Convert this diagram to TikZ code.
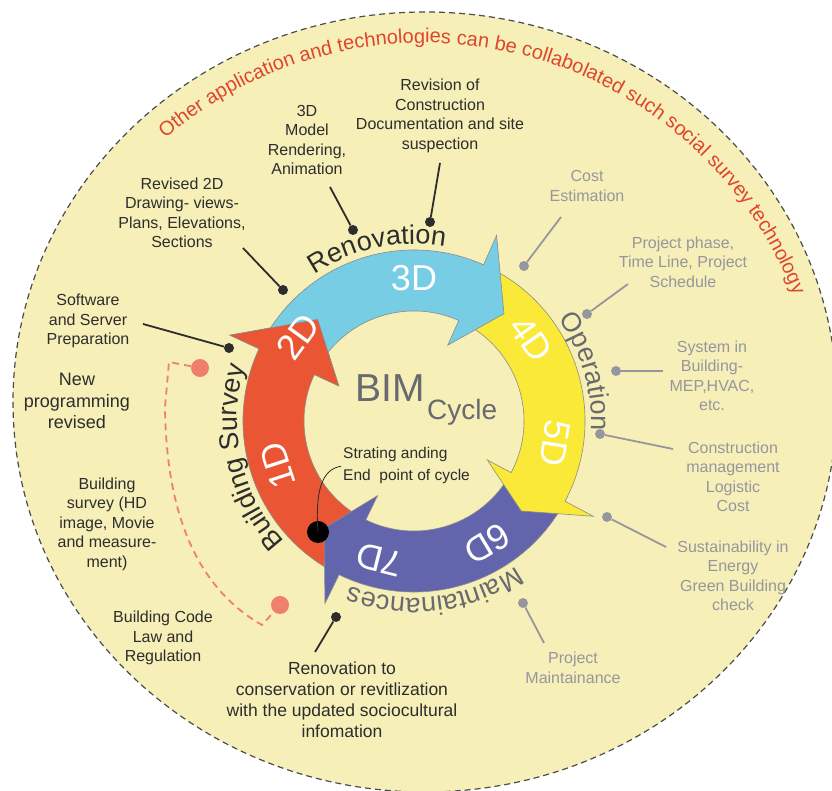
\documentclass[tikz,border=0pt]{standalone}
\usepackage{fontspec}
\setmainfont{Liberation Sans}
\usetikzlibrary{positioning,decorations.text}

\definecolor{paper}{RGB}{246,239,184}
\definecolor{bimred}{RGB}{234,86,52}
\definecolor{bimblue}{RGB}{118,205,228}
\definecolor{bimyellow}{RGB}{250,233,55}
\definecolor{bimpurple}{RGB}{98,101,172}
\definecolor{bimgrey}{RGB}{105,105,112}
\definecolor{note}{RGB}{150,150,158}
\definecolor{ink}{RGB}{45,45,45}
\definecolor{salmon}{RGB}{240,128,110}
\definecolor{headline}{RGB}{222,70,45}

% one curved arrow of the cycle: colour, tail angle, barb angle, tip angle
\newcommand{\bimband}[4]{%
  \filldraw[ring, fill=#1]
    (#2:171) arc[start angle=#2, end angle=#3, radius=171]
    -- (#3:203) -- (#4:140) -- (#3:83) -- (#3:110)
    arc[start angle=#3, end angle=#2, radius=110] -- cycle;}

\begin{document}
\begin{tikzpicture}[x=1pt, y=1pt,
    lbl/.style={align=center, inner sep=0pt, text=ink, font=\fontsize{16}{19.5}\selectfont},
    glbl/.style={lbl, text=note},
    dot/.style={circle, fill=ink, inner sep=0pt, minimum size=10pt},
    gdot/.style={dot, fill=note},
    lead/.style={draw=ink, line width=1.8pt},
    glead/.style={draw=note, line width=1.8pt},
    digit/.style={text=white, inner sep=0pt, font=\fontsize{36}{36}\selectfont},
    ring/.style={draw=black!45, line width=0.6pt}]

  \clip (0,0) rectangle (832,791);
  \fill[white] (0,0) rectangle (832,791);
  \filldraw[fill=paper, draw=black!70, dash pattern=on 6pt off 4pt, line width=1.2pt]
    (425,389) ellipse[x radius=412, y radius=390];

  % red headline round the top
  \path[decorate, decoration={text along path, text align=center,
      text={|\fontsize{20}{20}\selectfont\color{headline}|Other application and technologies can be collabolated such social survey technology}}]
    (424,351) ++(140:397) arc[start angle=140, end angle=12, radius=397];

  \begin{scope}[shift={(414,370)}]
    % phase names round the ring
    \path[decorate, decoration={text along path, text align=center,
        text={|\fontsize{27}{27}\selectfont\color{ink}|Renovation}}]
      (130:177) arc[start angle=130, end angle=74, radius=177];
    \path[decorate, decoration={text along path, text align=center,
        text={|\fontsize{27}{27}\selectfont\color{bimgrey}|Operation}}]
      (40:177) arc[start angle=40, end angle=-8, radius=177];
    \path[decorate, decoration={text along path, text align=center,
        text={|\fontsize{27}{27}\selectfont\color{bimgrey}|Maintainances}}]
      (-40:177) arc[start angle=-40, end angle=-126, radius=177];
    \path[decorate, decoration={text along path, text align=center,
        text={|\fontsize{27}{27}\selectfont\color{ink}|Building Survey}}]
      (235:177) arc[start angle=235, end angle=150, radius=177];

    \bimband{bimred}{240}{155}{133.5}
    \bimband{bimpurple}{-31}{-116}{-130}
    \bimband{bimyellow}{62}{-28}{-40}
    \bimband{bimblue}{151}{66}{50}
    % red head again, over the tail of the blue one
    \fill[bimred] (155:203) -- (133.5:140) -- (155:83) -- cycle;
    \draw[ring] (155:171) -- (155:203) -- (133.5:140) -- (155:83) -- (155:110);

    \foreach \lab/\ang in {1D/198, 2D/144, 3D/90, 4D/35, 5D/-9, 6D/-59, 7D/-104}
      \node[digit, rotate=\ang-90] (d\lab) at (\ang:143) {\lab};
  \end{scope}

  \node[inner sep=0pt, text=bimgrey, font=\fontsize{39}{39}\selectfont, anchor=base] (bim) at (390,389) {BIM};
  \node[inner sep=0pt, text=bimgrey, font=\fontsize{28}{28}\selectfont, anchor=base west] (cyc)
    at ([xshift=2pt, yshift=-18pt]bim.base east) {Cycle};

  \node[lbl, align=left, anchor=west, font=\fontsize{15.5}{22}\selectfont] (start) at (343,325) {Strating anding\\End\ \ point of cycle};
  \node[dot, fill=black, minimum size=22pt] (sdot) at (318,259) {};
  \draw[ink, line width=0.8pt, shorten >=2pt] (sdot.center) .. controls (315,300) and (322,322) .. (start.west);

  % black notes
  \node[lbl] (revision) at (440,675) {Revision of\\Construction\\Documentation and site\\suspection};
  \node[lbl] (render) at (307,651) {3D\\Model\\Rendering,\\Animation};
  \node[lbl] (drawings) at (182,578) {Revised 2D\\Drawing- views-\\Plans, Elevations,\\Sections};
  \node[lbl] (software) at (88,470) {Software\\and Server\\Preparation};
  \node[lbl, font=\fontsize{18}{21.5}\selectfont] (newprog) at (77,390) {New\\programming\\revised};
  \node[lbl] (survey) at (107,267) {Building\\survey (HD\\image, Movie\\and measure-\\ment)};
  \node[lbl] (code) at (163,153) {Building Code\\Law and\\Regulation};
  \node[lbl, font=\fontsize{17.5}{21}\selectfont] (renovto) at (342,91) {Renovation to\\conservation or revitlization\\with the updated sociocultural\\infomation};

  \node[dot] (p-revision) at (430,569) {};
  \node[dot] (p-render) at (353,561) {};
  \node[dot] (p-drawings) at (283,501) {};
  \node[dot] (p-software) at (229,443) {};
  \node[dot] (p-renovto) at (336,174) {};
  \coordinate (e-revision) at (440,628);
  \coordinate (e-render) at (330,604);
  \coordinate (e-drawings) at (243,543);
  \coordinate (e-software) at (143,467);
  \coordinate (e-renovto) at (315,139);
  \draw[lead] (e-revision) -- (p-revision);
  \draw[lead] (e-render) -- (p-render);
  \draw[lead] (e-drawings) -- (p-drawings);
  \draw[lead] (e-software) -- (p-software);
  \draw[lead] (e-renovto) -- (p-renovto);

  % grey notes
  \node[glbl] (cost) at (587,605) {Cost\\Estimation};
  \node[glbl] (phase) at (683,529) {Project phase,\\Time Line, Project\\Schedule};
  \node[glbl] (systems) at (712,415) {System in\\Building-\\MEP,HVAC,\\etc.};
  \node[glbl] (manage) at (733,314) {Construction\\management\\Logistic\\Cost};
  \node[glbl] (sustain) at (733,215) {Sustainability in\\Energy\\Green Building\\check};
  \node[glbl] (maint) at (573,123) {Project\\Maintainance};

  \node[gdot] (p-cost) at (524,525) {};
  \node[gdot] (p-phase) at (587,477) {};
  \node[gdot] (p-systems) at (616,420) {};
  \node[gdot] (p-manage) at (600,357) {};
  \node[gdot] (p-sustain) at (607,274) {};
  \node[gdot] (p-maint) at (523,188) {};
  \coordinate (e-cost) at (561,574);
  \coordinate (e-phase) at (628,507);
  \coordinate (e-systems) at (663,420);
  \coordinate (e-manage) at (673,342);
  \coordinate (e-sustain) at (666,244);
  \coordinate (e-maint) at (544,148);
  \draw[glead] (e-cost) -- (p-cost);
  \draw[glead] (e-phase) -- (p-phase);
  \draw[glead] (e-systems) -- (p-systems);
  \draw[glead] (e-manage) -- (p-manage);
  \draw[glead] (e-sustain) -- (p-sustain);
  \draw[glead] (e-maint) -- (p-maint);

  % dashed loop back to the survey
  \node[circle, fill=salmon, inner sep=0pt, minimum size=18pt] (loop-a) at (200,423) {};
  \node[circle, fill=salmon, inner sep=0pt, minimum size=18pt] (loop-b) at (280,186) {};
  \draw[salmon, line width=1.8pt, dash pattern=on 7pt off 5pt]
    (loop-a) -- (169,429) -- (165,384) .. controls (166,300) and (185,210) .. (262,166) -- (loop-b);
\end{tikzpicture}
\end{document}
